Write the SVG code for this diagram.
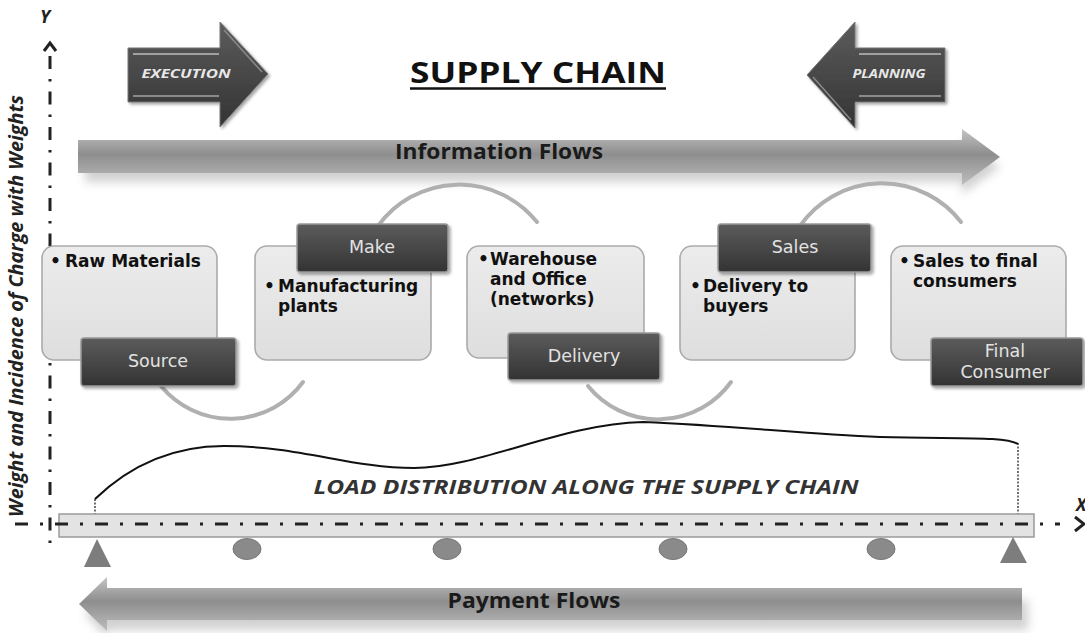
<svg xmlns="http://www.w3.org/2000/svg" width="1085" height="633" viewBox="0 0 1085 633">
<defs>
<linearGradient id="gFlow" x1="0" y1="0" x2="0" y2="1">
<stop offset="0" stop-color="#c4c4c4"/>
<stop offset="0.45" stop-color="#8e8e8e"/>
<stop offset="1" stop-color="#bdbdbd"/>
</linearGradient>
<linearGradient id="gDark" x1="0" y1="0" x2="0" y2="1">
<stop offset="0" stop-color="#5c5c5c"/>
<stop offset="1" stop-color="#333"/>
</linearGradient>
<linearGradient id="gLight" x1="0" y1="0" x2="0" y2="1">
<stop offset="0" stop-color="#ececec"/>
<stop offset="1" stop-color="#dedede"/>
</linearGradient>
<filter id="blur" x="-10%" y="-50%" width="120%" height="200%"><feGaussianBlur stdDeviation="5"/></filter>
<filter id="sh" x="-10%" y="-20%" width="130%" height="150%"><feDropShadow dx="2" dy="2" stdDeviation="1.5" flood-color="#000" flood-opacity="0.35"/></filter>
<style>
.lbox{fill:url(#gLight);stroke:#aaa;stroke-width:1.6}
.dbox{fill:url(#gDark);stroke:#9a9a9a;stroke-width:1.5;filter:url(#sh)}
.btxt{font-family:"DejaVu Sans",sans-serif;font-weight:bold;font-size:17px;fill:#111}
.dtxt{font-family:"DejaVu Sans",sans-serif;font-size:17.5px;fill:#e2e2e2;text-anchor:middle}
.arc{fill:none;stroke:#b0b0b0;stroke-width:4;stroke-linecap:round}
.flowtxt{font-family:"Open Sans",sans-serif;font-weight:bold;font-size:21px;fill:#1a1a1a}
.axis{fill:none;stroke:#222;stroke-width:3}
.ital{font-family:"Open Sans",sans-serif;font-weight:bold;font-style:italic}
</style>
</defs>
<rect width="1085" height="633" fill="#fff"/>

<!-- Y axis -->
<g id="y-axis">
<line class="axis" x1="50" y1="56" x2="50" y2="545" stroke-dasharray="13 10 2.5 10"/>
<polyline class="axis" points="44,51 50,43 56,51" stroke-width="2.5"/>
<text class="ital" x="45" y="23" font-size="18" text-anchor="middle" fill="#222">Y</text>
<text class="ital" transform="translate(23,306) rotate(-90)" font-size="19" text-anchor="middle" fill="#222" textLength="422" lengthAdjust="spacingAndGlyphs">Weight and Incidence of Charge with Weights</text>
</g>

<!-- Title -->
<g id="title">
<text x="538" y="83" font-family="'Open Sans',sans-serif" font-weight="bold" font-size="29" text-anchor="middle" fill="#111" textLength="256" lengthAdjust="spacingAndGlyphs">SUPPLY CHAIN</text>
<line x1="410" y1="88.5" x2="666" y2="88.5" stroke="#111" stroke-width="2.5"/>
</g>

<!-- Execution arrow -->
<g id="execution">
<polygon points="128,48 220,48 220,22 268,74 220,127 220,102 128,102" fill="url(#gDark)" stroke="#777" stroke-width="1" filter="url(#sh)"/>
<line x1="133" y1="54" x2="219" y2="54" stroke="#a0a0a0" stroke-width="2"/>
<line x1="133" y1="96" x2="219" y2="96" stroke="#8a8a8a" stroke-width="2"/>
<line x1="224" y1="30" x2="262" y2="72" stroke="#8a8a8a" stroke-width="1.5"/>
<text class="ital" x="186" y="78" font-size="13" text-anchor="middle" fill="#e8e8e8" textLength="89" lengthAdjust="spacingAndGlyphs">EXECUTION</text>
</g>

<!-- Planning arrow -->
<g id="planning">
<polygon points="945,48 855,48 855,22 807,75 855,128 855,102 945,102" fill="url(#gDark)" stroke="#777" stroke-width="1" filter="url(#sh)"/>
<line x1="859" y1="54" x2="941" y2="54" stroke="#a0a0a0" stroke-width="2"/>
<line x1="859" y1="96" x2="941" y2="96" stroke="#8a8a8a" stroke-width="2"/>
<line x1="813" y1="77" x2="851" y2="120" stroke="#8a8a8a" stroke-width="1.5"/>
<text class="ital" x="889" y="78" font-size="13" text-anchor="middle" fill="#e8e8e8" textLength="73" lengthAdjust="spacingAndGlyphs">PLANNING</text>
</g>

<!-- Information flows -->
<g id="information-flows">
<path d="M85,152 L962,152 L962,140 L1000,167 L962,194 L962,182 L85,182 Z" fill="#999" opacity="0.45" filter="url(#blur)"/>
<path d="M78,140 L962,140 L962,129 L1000,157 L962,185 L962,173 L78,173 Z" fill="url(#gFlow)"/>
<text class="flowtxt" x="499" y="159" text-anchor="middle" textLength="208" lengthAdjust="spacingAndGlyphs">Information Flows</text>
</g>

<!-- Connectors (cycle arcs) -->
<g id="connectors">
<path class="arc" d="M161,386 A90,90 0 0 0 303,382"/>
<path class="arc" d="M378,226 A100,100 0 0 1 537,222"/>
<path class="arc" d="M588,386 A90,90 0 0 0 731,382"/>
<path class="arc" d="M800,226 A100,100 0 0 1 961,222"/>
</g>

<!-- Source -->
<g id="node-source">
<rect class="lbox" x="42" y="246" width="175" height="114" rx="12"/>
<text class="btxt" x="50" y="267"><tspan>•</tspan><tspan x="65">Raw Materials</tspan></text>
<rect class="dbox" x="81" y="338" width="155" height="48" rx="3"/>
<text class="dtxt" x="158" y="367">Source</text>
</g>

<!-- Make -->
<g id="node-make">
<rect class="lbox" x="255" y="246" width="176" height="114" rx="12"/>
<text class="btxt" x="264" y="292"><tspan>•</tspan><tspan x="278">Manufacturing</tspan></text>
<text class="btxt" x="278" y="312">plants</text>
<rect class="dbox" x="297" y="224" width="151" height="48" rx="3"/>
<text class="dtxt" x="372" y="253">Make</text>
</g>

<!-- Delivery -->
<g id="node-delivery">
<rect class="lbox" x="467" y="246" width="177" height="112" rx="12"/>
<text class="btxt" x="478" y="265"><tspan>•</tspan><tspan x="490">Warehouse</tspan></text>
<text class="btxt" x="490" y="285">and Office</text>
<text class="btxt" x="490" y="305">(networks)</text>
<rect class="dbox" x="508" y="333" width="152" height="47" rx="3"/>
<text class="dtxt" x="584" y="362">Delivery</text>
</g>

<!-- Sales -->
<g id="node-sales">
<rect class="lbox" x="680" y="246" width="175" height="114" rx="12"/>
<text class="btxt" x="690" y="292"><tspan>•</tspan><tspan x="703">Delivery to</tspan></text>
<text class="btxt" x="703" y="312">buyers</text>
<rect class="dbox" x="718" y="224" width="153" height="48" rx="3"/>
<text class="dtxt" x="795" y="253">Sales</text>
</g>

<!-- Final consumer -->
<g id="node-final-consumer">
<rect class="lbox" x="891" y="246" width="175" height="114" rx="12"/>
<text class="btxt" x="899" y="267"><tspan>•</tspan><tspan x="913">Sales to final</tspan></text>
<text class="btxt" x="913" y="287">consumers</text>
<rect class="dbox" x="931" y="338" width="152" height="48" rx="3"/>
<text class="dtxt" x="1005" y="357">Final</text>
<text class="dtxt" x="1005" y="378">Consumer</text>
</g>

<!-- Load distribution -->
<g id="load-distribution">
<line x1="95" y1="499" x2="95" y2="514" stroke="#444" stroke-width="1.5" stroke-dasharray="2 1.5"/>
<line x1="1018" y1="443" x2="1018" y2="514" stroke="#444" stroke-width="1.5" stroke-dasharray="2 1.5"/>
<path d="M95,499 C120,475 160,446 224,446 C300,446 350,468 414,468 C480,468 560,424 643,422 C740,426 800,434 880,437 C960,439 1005,436 1018,444" fill="none" stroke="#111" stroke-width="2"/>
<text class="ital" x="586" y="494" font-size="19" text-anchor="middle" fill="#333" textLength="545" lengthAdjust="spacingAndGlyphs">LOAD DISTRIBUTION ALONG THE SUPPLY CHAIN</text>
</g>

<!-- Beam and X axis -->
<g id="beam">
<rect x="59" y="514" width="975" height="23" fill="#e3e3e3" stroke="#9a9a9a" stroke-width="1.5"/>
<line class="axis" x1="15" y1="524" x2="1060" y2="524" stroke-dasharray="13 12 3 12"/>
<polyline class="axis" points="1075,517 1084,524 1075,531" stroke-width="2.5"/>
<text class="ital" x="1076" y="511" font-size="17" fill="#222">X</text>
<polygon points="84,567 97,539 111,567" fill="#7d7d7d"/>
<polygon points="1000,563 1013,537 1027,563" fill="#7d7d7d"/>
<ellipse cx="247" cy="549" rx="14" ry="10.5" fill="#8a8a8a" stroke="#777"/>
<ellipse cx="447" cy="549" rx="14" ry="10.5" fill="#8a8a8a" stroke="#777"/>
<ellipse cx="673" cy="549" rx="14" ry="10.5" fill="#8a8a8a" stroke="#777"/>
<ellipse cx="881" cy="549" rx="14" ry="10.5" fill="#8a8a8a" stroke="#777"/>
</g>

<!-- Payment flows -->
<g id="payment-flows">
<path d="M1028,600 L107,600 L107,590 L85,614 L107,638 L107,630 L1028,630 Z" fill="#999" opacity="0.45" filter="url(#blur)"/>
<path d="M1022,588 L107,588 L107,577 L79,604 L107,631 L107,620 L1022,620 Z" fill="url(#gFlow)"/>
<text class="flowtxt" x="534" y="608" text-anchor="middle" textLength="173" lengthAdjust="spacingAndGlyphs">Payment Flows</text>
</g>
</svg>
